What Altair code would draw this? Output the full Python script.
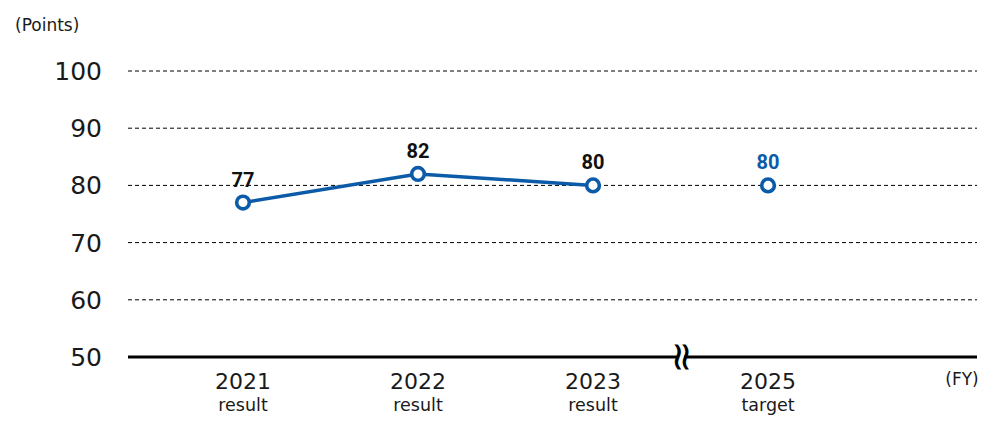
import altair as alt
import pandas as pd

years = ["2021", "2022", "2023", "2025"]
kinds = ["result", "result", "result", "target"]
scores = [77, 82, 80, 80]
y_ticks = [50, 60, 70, 80, 90, 100]

BLUE = "#0b5ba8"
FONT = "DejaVu Sans"
BOLD_FONT = "Roboto"
TXT = "#1a1a1a"

df = pd.DataFrame({
    "idx": list(range(len(years))),
    "year": years,
    "kind": kinds,
    "score": scores,
})
ticks_df = pd.DataFrame({"v": y_ticks})

W, H = 849, 286
xs = alt.Scale(domain=[-0.657, 4.194], nice=False, zero=False)
ys = alt.Scale(domain=[50, 100], nice=False, zero=False)

X = alt.X("idx:Q", scale=xs, axis=None)
Y = alt.Y("score:Q", scale=ys, axis=None)
base = alt.Chart(df)
tbase = alt.Chart(ticks_df)

grid = tbase.transform_filter("datum.v > 50").mark_rule(
    color="#000", strokeWidth=1, strokeDash=[4, 3]
).encode(y=alt.Y("v:Q", scale=ys, axis=None), x=alt.value(0), x2=alt.value(W))

ylabels = tbase.mark_text(font=FONT, fontSize=25, color=TXT, align="right",
                          baseline="alphabetic", dy=9).encode(
    y=alt.Y("v:Q", scale=ys, axis=None), x=alt.value(-26), text="v:Q"
)

baseline = tbase.transform_filter("datum.v == 50").mark_rule(color="#000", strokeWidth=3).encode(
    y=alt.Y("v:Q", scale=ys, axis=None), x=alt.value(0), x2=alt.value(W)
)

line = base.transform_filter("datum.kind == 'result'").mark_line(
    color=BLUE, strokeWidth=3.5
).encode(x=X, y=Y)

points = base.mark_point(
    shape="circle", filled=True, fill="white", stroke=BLUE, strokeWidth=3.6, size=160, opacity=1
).encode(x=X, y=Y)

labels = base.mark_text(font=BOLD_FONT, fontSize=20, fontWeight="bold",
                        baseline="alphabetic", dy=-16).encode(
    x=X, y=Y, text="score:Q",
    color=alt.condition("datum.kind == 'target'", alt.value(BLUE), alt.value("#111")),
)

year_text = base.mark_text(font=FONT, fontSize=22, color=TXT, baseline="alphabetic").encode(
    x=X, y=alt.value(H + 32), text="year:N"
)
kind_text = base.mark_text(font=FONT, fontSize=17.5, color=TXT, baseline="alphabetic").encode(
    x=X, y=alt.value(H + 54), text="kind:N"
)

# axis break between 2023 and 2025
brk = pd.DataFrame({"xm": [(df["idx"].iloc[2] + df["idx"].iloc[3]) / 2]})
break_rect = alt.Chart(brk).mark_rect(color="white", width=7, height=16).encode(
    x=alt.X("xm:Q", scale=xs, axis=None), y=alt.value(H)
)
break_mark = alt.Chart(brk).mark_text(text="≈", angle=90, fontSize=40, font="DejaVu Sans",
                                      color="#000", baseline="middle", align="center").encode(
    x=alt.X("xm:Q", scale=xs, axis=None), y=alt.value(H)
)

fy = alt.Chart(pd.DataFrame({"t": ["(FY)"]})).mark_text(
    font=FONT, fontSize=17, color=TXT, align="center", baseline="alphabetic"
).encode(x=alt.value(W - 15), y=alt.value(H + 28), text="t:N")

points_lbl = alt.Chart(pd.DataFrame({"t": ["(Points)"]})).mark_text(
    font=FONT, fontSize=17, color=TXT, align="left", baseline="alphabetic"
).encode(x=alt.value(-113), y=alt.value(-40), text="t:N")

chart = alt.layer(
    grid, ylabels, baseline, break_rect, break_mark, line, points, labels,
    year_text, kind_text, fy, points_lbl
).properties(
    width=W, height=H,
    autosize=alt.AutoSizeParams(type="none"),
    padding={"left": 120, "top": 63, "right": 20, "bottom": 70},
).configure_view(strokeWidth=0)

chart.save("out.html", embed_options={"renderer": "svg", "actions": False})
